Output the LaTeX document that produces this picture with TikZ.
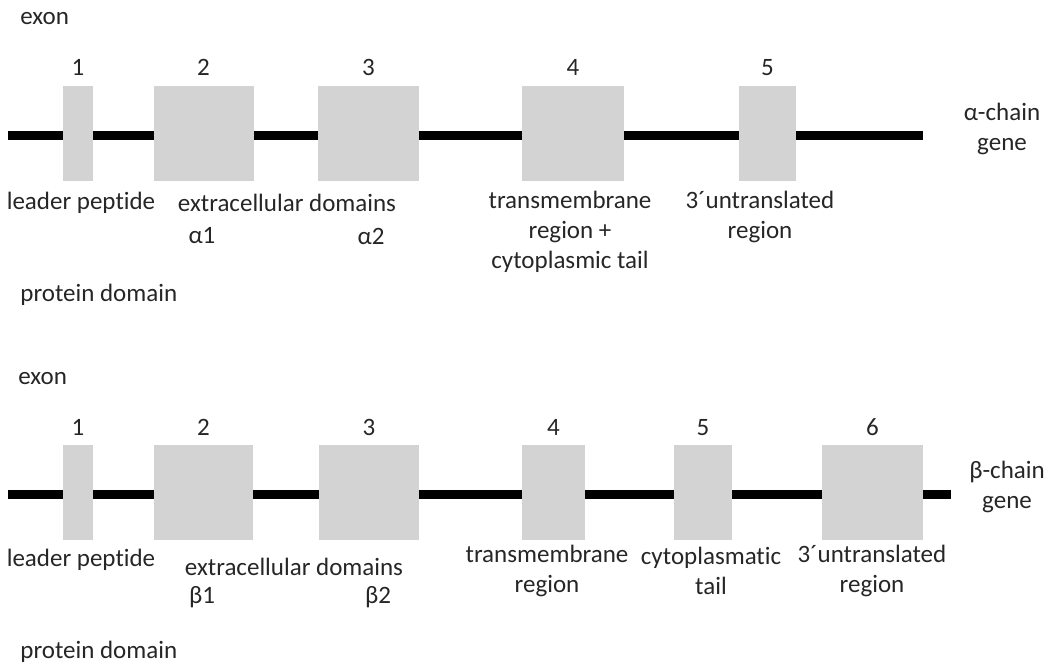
\documentclass[tikz,border=0pt]{standalone}
\usepackage{fontspec}
\setmainfont{Carlito}[Ligatures={NoCommon,NoRare}]
\definecolor{boxgray}{RGB}{211,211,211}
\definecolor{txtcol}{RGB}{38,38,38}
\begin{document}
\begin{tikzpicture}[x=0.5pt,y=-0.5pt,
  txt/.style={font=\fontsize{12.5}{15}\selectfont, text=txtcol, inner sep=0pt, align=center},
  exonbox/.style={fill=boxgray, draw=none, minimum height=47.5pt, inner sep=0pt},
  gene/.style={line width=4.5pt, black}]
\useasboundingbox (0,0) rectangle (1055,667);

% ---------- alpha chain ----------
\coordinate (aS) at (8,136);
\coordinate (aE) at (923,136);
\draw[gene] (aS) -- (aE);
\node[exonbox, minimum width=15pt]   (a1) at (78,133.5) {};
\node[exonbox, minimum width=50pt]   (a2) at (203.5,133.5) {};
\node[exonbox, minimum width=50.5pt] (a3) at (368.5,133.5) {};
\node[exonbox, minimum width=51pt]   (a4) at (573,133.5) {};
\node[exonbox, minimum width=28.5pt] (a5) at (767.5,133.5) {};
\foreach \i in {1,...,5} {\node[txt] (na\i) at ([yshift=9pt]a\i.north) {\i};}

\node[txt, anchor=west] (exA) at (20,19) {exon};
\node[txt] (gA) at (1002,128.5) {α-chain\\gene};
\node[txt] (lpA) at (81,203) {leader peptide};
\node[txt] (ecA) at (287,203) {extracellular domains};
\node[txt] (al1) at (202,236) {α1};
\node[txt] (al2) at (371,236) {α2};
\node[txt] (tmA) at (570,232) {transmembrane\\region +\\cytoplasmic tail};
\node[txt] (utA) at (760,217) {3´untranslated\\region};
\node[txt, anchor=west] (pdA) at (20,295) {protein domain};

% ---------- beta chain ----------
\coordinate (bS) at (8,495);
\coordinate (bE) at (951,495);
\draw[gene] (bS) -- (bE);
\node[exonbox, minimum width=15pt]   (b1) at (78,492.5) {};
\node[exonbox, minimum width=49.5pt] (b2) at (203.5,492.5) {};
\node[exonbox, minimum width=50pt]   (b3) at (369,492.5) {};
\node[exonbox, minimum width=31.5pt] (b4) at (553.5,492.5) {};
\node[exonbox, minimum width=29pt]   (b5) at (703,492.5) {};
\node[exonbox, minimum width=50.5pt] (b6) at (872.5,492.5) {};
\foreach \i in {1,...,6} {\node[txt] (nb\i) at ([yshift=8.5pt]b\i.north) {\i};}

\node[txt, anchor=west] (exB) at (18,379) {exon};
\node[txt] (gB) at (1007,487) {β-chain\\gene};
\node[txt] (lpB) at (81,560) {leader peptide};
\node[txt] (ecB) at (294,567) {extracellular domains};
\node[txt] (be1) at (202,597) {β1};
\node[txt] (be2) at (378,597) {β2};
\node[txt] (tmB) at (547,571) {transmembrane\\region};
\node[txt] (ctB) at (711,571) {cytoplasmatic\\tail};
\node[txt] (utB) at (872,571) {3´untranslated\\region};
\node[txt, anchor=west] (pdB) at (20,652) {protein domain};
\end{tikzpicture}
\end{document}
